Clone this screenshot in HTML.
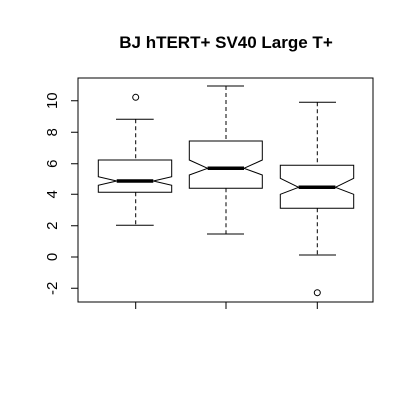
<!DOCTYPE html>
<html><head><style>body{margin:0;background:#fff}</style></head><body>
<svg width="414" height="400" xmlns="http://www.w3.org/2000/svg" font-family="Liberation Sans, sans-serif">
<rect width="414" height="400" fill="#fff"/>
<text x="226" y="48" text-anchor="middle" font-size="17" font-weight="bold">BJ hTERT+ SV40 Large T+</text>
<rect x="78" y="78" width="295" height="224" fill="none" stroke="#000"/>
<g stroke="#000" fill="none">
<path d="M78 100.7h-7M78 132.3h-7M78 163.7h-7M78 194.3h-7M78 225.7h-7M78 257h-7M78 288.3h-7"/>
<path d="M135.7 302v7M226 302v7M317.3 302v7"/>
<g stroke-dasharray="4,3">
<path d="M135.7 119.3V160M135.7 192.3V225.3M226 86V141M226 188.3V234M317.3 102.3V165.3M317.3 208.3V255"/>
</g>
<path d="M116 119.3h37.7M116 225.3h37.7M207 86h37M207 234h37M299 102.3h37M299 255h37"/>
<path d="M98.3 160H171.7V176.7L153.3 181L171.7 185.3V192.3H98.3V185.3L116.7 181L98.3 176.7Z" fill="#fff"/>
<path d="M189.3 141H262.3V160L244 168.3L262.3 175V188.3H189.3V175L207.6 168.3L189.3 160Z" fill="#fff"/>
<path d="M280.3 165.3H353.7V178.3L335.4 187.3L353.7 194.3V208.3H280.3V194.3L298.6 187.3L280.3 178.3Z" fill="#fff"/>
<path d="M116.7 181H153.3M207.6 168.3H244M298.6 187.3H335.4" stroke-width="3.5"/>
<circle cx="135.7" cy="97.3" r="3"/>
<circle cx="317.3" cy="292.7" r="3"/>
</g>
<g font-size="15" text-anchor="middle">
<text transform="translate(57,100.7) rotate(-90)">10</text>
<text transform="translate(57,132.3) rotate(-90)">8</text>
<text transform="translate(57,163.7) rotate(-90)">6</text>
<text transform="translate(57,194.3) rotate(-90)">4</text>
<text transform="translate(57,225.7) rotate(-90)">2</text>
<text transform="translate(57,257) rotate(-90)">0</text>
<text transform="translate(57,288.3) rotate(-90)">-2</text>
</g>
</svg>
</body></html>
